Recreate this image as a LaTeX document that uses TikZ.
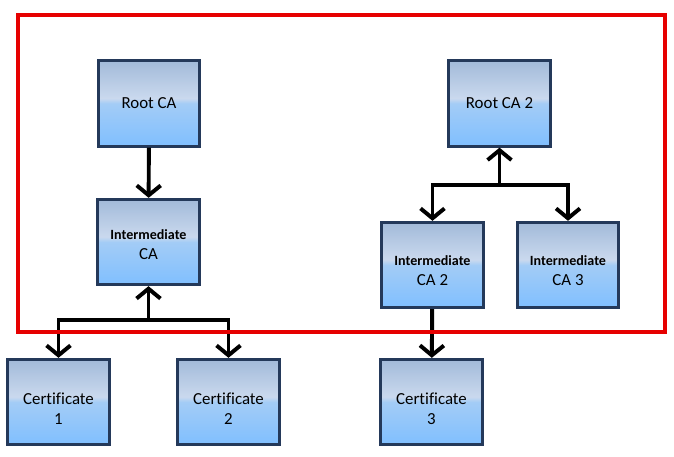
\documentclass[tikz,border=0pt]{standalone}
\usepackage{fontspec}
\setmainfont{Carlito}[Ligatures=NoCommon]
\usetikzlibrary{arrows.meta}

\definecolor{casky}{HTML}{A2BAD9}
\definecolor{cabright}{HTML}{CAD9EE}
\definecolor{cablue}{HTML}{A3CCF6}
\definecolor{cadeep}{HTML}{80BFFF}
\definecolor{caedge}{HTML}{24395A}
\definecolor{scopered}{HTML}{E60000}

\pgfdeclareverticalshading{caface}{100bp}{%
  color(0bp)=(cadeep); color(25bp)=(cadeep); color(50bp)=(cablue);
  color(53bp)=(cabright); color(75bp)=(casky); color(100bp)=(casky)}

\newcommand{\casub}[1]{{\fontsize{10}{14}\selectfont\bfseries #1}}

\begin{document}
\begin{tikzpicture}[
  x=0.025cm, y=-0.025cm,
  font=\fontsize{12}{14}\selectfont,
  every node/.style={align=center},
  ca/.style={draw=caedge, line width=2.2pt, shading=caface,
             minimum width=2.53cm, minimum height=2.13cm, inner sep=2pt},
  lowered/.style={text height=#1},
  flow/.style={-{Straight Barb[length=7pt,width=17pt]}, line width=2.8pt},
  both/.style={{Straight Barb[length=7pt,width=17pt]}-{Straight Barb[length=7pt,width=17pt]},
               line width=2.8pt},
]
\useasboundingbox (0,0) rectangle (674,457);

% ---- first chain ----
\node[ca] (root)  at (149,103.5) {Root CA};
\node[ca, lowered=24.5pt] (inter) at (148.5,242) {\casub{Intermediate}\\CA};
\node[ca, lowered=32pt] (cert1) at (58.5,402)  {Certificate\\1};
\node[ca, lowered=32pt] (cert2) at (228.5,402) {Certificate\\2};

% ---- second chain ----
\node[ca] (root2)  at (499.5,103.5) {Root CA 2};
\node[ca, lowered=29pt] (inter2) at (432.5,265) {\casub{Intermediate}\\CA 2};
\node[ca, lowered=29pt] (inter3) at (568,265)   {\casub{Intermediate}\\CA 3};
\node[ca, lowered=32pt] (cert3)  at (431.5,402) {Certificate\\3};

% junctions of the forks
\coordinate (fork1) at (148.5,320);
\coordinate (fork2) at (499.5,185);

\draw[flow] (root) -- (inter);
\draw[both] (cert1.north) |- (fork1) -| (cert2.north);
\draw[flow] (fork1) -- (inter.south);
\draw[both] (inter2.north) |- (fork2) -| (inter3.north);
\draw[flow] (fork2) -- (root2.south);
\draw[flow] (inter2) -- (cert3);

% ---- trust boundary ----
\draw[scopered, line width=2.2pt] (18,15) rectangle (665,332);
\end{tikzpicture}
\end{document}
